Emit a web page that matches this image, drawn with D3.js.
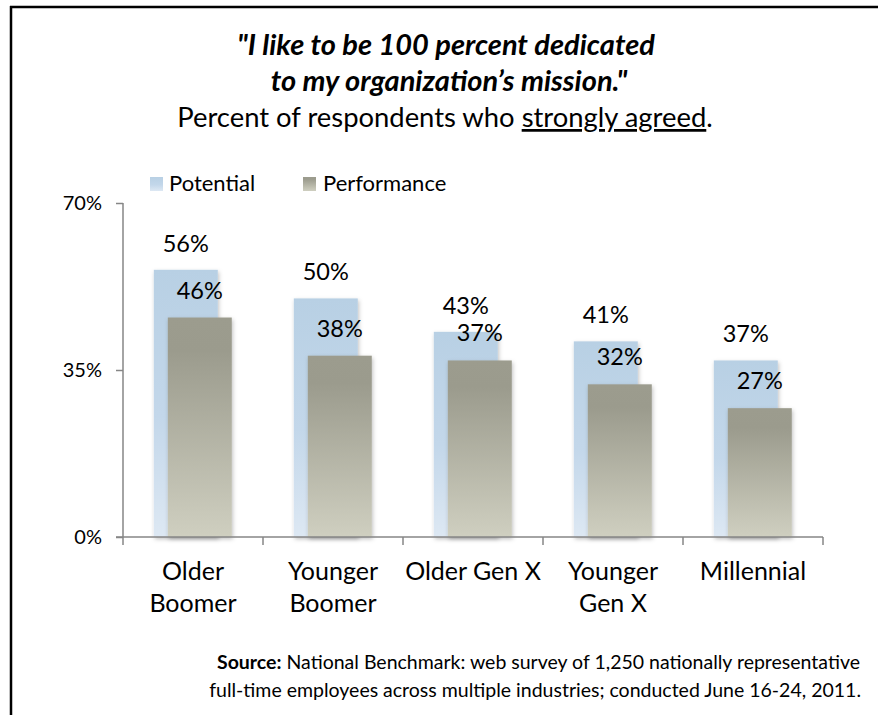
<!DOCTYPE html>
<html>
<head>
<meta charset="utf-8">
<script src="https://cdn.jsdelivr.net/npm/d3@7"></script>
<style>
  html, body { margin: 0; padding: 0; background: #fff; }
  svg { display: block; font-family: Lato, "Open Sans", sans-serif; }
</style>
</head>
<body>
<svg id="chart" width="878" height="715"></svg>
<script>
const categories = [["Older", "Boomer"], ["Younger", "Boomer"], ["Older Gen X"], ["Younger", "Gen X"], ["Millennial"]];
const categoryKeys = ["Older Boomer", "Younger Boomer", "Older Gen X", "Younger Gen X", "Millennial"];
const potential = [56, 50, 43, 41, 37];
const performance = [46, 38, 37, 32, 27];
const yTicks = [0, 35, 70];
const seriesNames = ["Potential", "Performance"];

const svg = d3.select("#chart");

// gradients & shadow
const defs = svg.append("defs");
const gPot = defs.append("linearGradient").attr("id", "gPot").attr("x1", 0).attr("y1", 0).attr("x2", 0).attr("y2", 1);
gPot.append("stop").attr("offset", "0%").attr("stop-color", "#b8d0e4");
gPot.append("stop").attr("offset", "55%").attr("stop-color", "#c3d7ea");
gPot.append("stop").attr("offset", "100%").attr("stop-color", "#dde8f3");
const gPerf = defs.append("linearGradient").attr("id", "gPerf").attr("x1", 0).attr("y1", 0).attr("x2", 0).attr("y2", 1);
gPerf.append("stop").attr("offset", "0%").attr("stop-color", "#9c9c8e");
gPerf.append("stop").attr("offset", "15%").attr("stop-color", "#9b9b8d");
gPerf.append("stop").attr("offset", "100%").attr("stop-color", "#cfcfc0");
const f = defs.append("filter").attr("id", "shadow").attr("x", "-20%").attr("y", "-5%").attr("width", "140%").attr("height", "115%");
f.append("feDropShadow").attr("dx", 1).attr("dy", 2).attr("stdDeviation", 2).attr("flood-color", "#000").attr("flood-opacity", 0.25);

// frame
svg.append("line").attr("x1", 11).attr("x2", 11).attr("y1", 6).attr("y2", 715).attr("stroke", "#000").attr("stroke-width", 2.5);
svg.append("line").attr("x1", 10).attr("x2", 878).attr("y1", 7).attr("y2", 7).attr("stroke", "#000").attr("stroke-width", 2.5);

// title
const title = svg.append("g").attr("text-anchor", "middle").attr("fill", "#000");
title.append("text").attr("x", 446).attr("y", 55).attr("font-size", 29).attr("font-weight", "bold").attr("font-style", "italic")
  .text("\"I like to be 100 percent dedicated");
title.append("text").attr("x", 449).attr("y", 91).attr("font-size", 29).attr("font-weight", "bold").attr("font-style", "italic")
  .text("to my organization\u2019s mission.\"");
const t3 = title.append("text").attr("x", 445).attr("y", 127).attr("font-size", 27.4);
t3.append("tspan").text("Percent of respondents who ");
t3.append("tspan").attr("text-decoration", "underline").text("strongly agreed");
t3.append("tspan").text(".");

// scales
const x = d3.scaleBand().domain(categoryKeys).range([123, 823]).padding(0);
const y = d3.scaleLinear().domain([0, 70]).range([537, 203]);
const bw = x.bandwidth();
const potOff = bw * 0.22, perfOff = bw * 0.32, barW = bw * 0.457;

// bars
const bars = svg.append("g");
bars.selectAll("rect.pot").data(potential).join("rect")
  .attr("class", "pot")
  .attr("x", (d, i) => x(categoryKeys[i]) + potOff)
  .attr("y", d => y(d))
  .attr("width", barW)
  .attr("height", d => y(0) - y(d))
  .attr("fill", "url(#gPot)")
  .attr("filter", "url(#shadow)");
bars.selectAll("rect.perf").data(performance).join("rect")
  .attr("class", "perf")
  .attr("x", (d, i) => x(categoryKeys[i]) + perfOff)
  .attr("y", d => y(d))
  .attr("width", barW)
  .attr("height", d => y(0) - y(d))
  .attr("fill", "url(#gPerf)")
  .attr("filter", "url(#shadow)");

// value labels
const labels = svg.append("g").attr("text-anchor", "middle").attr("font-size", 23.5).attr("fill", "#000");
labels.selectAll("text.lp").data(potential).join("text")
  .attr("class", "lp")
  .attr("x", (d, i) => x(categoryKeys[i]) + potOff + barW / 2)
  .attr("y", d => y(d) - 18)
  .text(d => d + "%");
labels.selectAll("text.lf").data(performance).join("text")
  .attr("class", "lf")
  .attr("x", (d, i) => x(categoryKeys[i]) + perfOff + barW / 2)
  .attr("y", d => y(d) - 19)
  .text(d => d + "%");

// y axis
const yAxis = svg.append("g").attr("transform", "translate(123,0)")
  .call(d3.axisLeft(y).tickValues(yTicks).tickSize(7).tickPadding(14).tickFormat(d => d + "%"));
yAxis.select(".domain").attr("stroke", "#868686").attr("stroke-width", 1.5).attr("d", "M0,203V537");
yAxis.selectAll(".tick line").attr("stroke", "#868686").attr("stroke-width", 1.5);
yAxis.selectAll(".tick text").attr("font-family", "Lato, sans-serif").attr("font-size", 20).attr("fill", "#000");

// x axis
const xAxisG = svg.append("g");
xAxisG.append("line").attr("x1", 116).attr("x2", x.range()[1]).attr("y1", y(0)).attr("y2", y(0))
  .attr("stroke", "#868686").attr("stroke-width", 1.5);
const edges = categoryKeys.map(c => x(c)).concat([x.range()[1]]);
xAxisG.selectAll("line.tk").data(edges).join("line").attr("class", "tk")
  .attr("x1", d => d).attr("x2", d => d).attr("y1", y(0)).attr("y2", y(0) + 8)
  .attr("stroke", "#868686").attr("stroke-width", 1.5);
const xl = svg.append("g").attr("text-anchor", "middle").attr("font-size", 25).attr("fill", "#000");
categories.forEach((lines, i) => {
  const t = xl.append("text").attr("x", x(categoryKeys[i]) + bw / 2).attr("y", 580);
  lines.forEach((ln, j) => t.append("tspan").attr("x", x(categoryKeys[i]) + bw / 2).attr("dy", j === 0 ? 0 : 32).text(ln));
});

// legend
const legend = svg.append("g").attr("font-size", 22).attr("fill", "#000");
const legX = [150, 303];
seriesNames.forEach((name, i) => {
  legend.append("rect").attr("x", legX[i]).attr("y", 177).attr("width", 13).attr("height", 14)
    .attr("fill", i === 0 ? "url(#gPot)" : "url(#gPerf)");
  legend.append("text").attr("x", legX[i] + (i === 0 ? 19 : 20)).attr("y", 191).text(name);
});

// source
const src = svg.append("g").attr("text-anchor", "end").attr("font-size", 19.5).attr("fill", "#000");
const s1 = src.append("text").attr("x", 860).attr("y", 669);
s1.append("tspan").attr("font-weight", "bold").text("Source:");
s1.append("tspan").text(" National Benchmark: web survey of 1,250 nationally representative");
src.append("text").attr("x", 861).attr("y", 697).text("full-time employees across multiple industries; conducted June 16-24, 2011.");
</script>
</body>
</html>
